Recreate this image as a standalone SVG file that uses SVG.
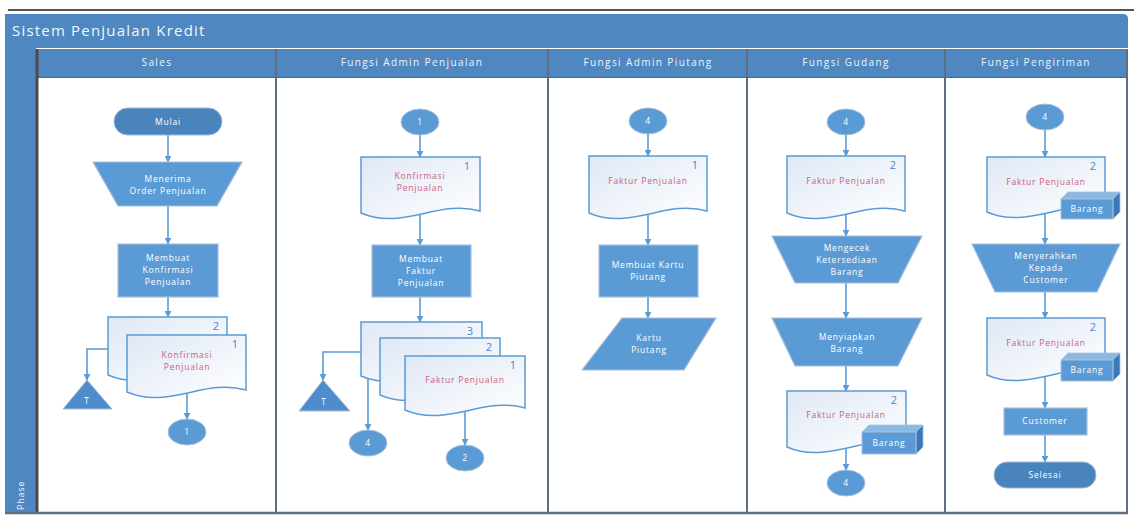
<svg xmlns="http://www.w3.org/2000/svg" width="1134" height="516" viewBox="0 0 1134 516">
<defs>
<style>
.t{font-family:"Open Sans","Liberation Sans",sans-serif;}
.title{font-size:15px;fill:#f2f6fb;letter-spacing:1.2px;}
.hdr{font-size:10px;fill:#eef3f9;letter-spacing:1.4px;text-anchor:middle;}
.nt{font-size:8.5px;fill:#ffffff;letter-spacing:0.8px;text-anchor:middle;}
.dt{font-size:8.5px;fill:#c9607f;letter-spacing:0.8px;text-anchor:middle;}
.num{font-size:11px;fill:#4a86c8;text-anchor:middle;}
.proc{fill:#5b9bd5;stroke:#a7c0dc;stroke-width:1.2;}
.term{fill:#4a84bd;stroke:#9db9d8;stroke-width:1;}
.doc{fill:url(#dg);stroke:#5b9bd5;stroke-width:1.5;}
.boxf{fill:#5b9bd5;stroke:#a7c0dc;stroke-width:1;}
.boxt{fill:#8cb8e4;stroke:#a7c0dc;stroke-width:0.8;}
.boxs{fill:#3a78b8;stroke:#a7c0dc;stroke-width:0.8;}
.con{fill:none;stroke:#5b9bd5;stroke-width:1.6;}
.sep{stroke:#5d6f80;stroke-width:2;}
</style>
<linearGradient id="dg" x1="0" y1="0" x2="1" y2="1">
<stop offset="0" stop-color="#dfe8f5"/>
<stop offset="1" stop-color="#ffffff"/>
</linearGradient>
<marker id="ah" viewBox="0 0 10 10" refX="9" refY="5" markerWidth="7" markerHeight="7" markerUnits="userSpaceOnUse" orient="auto">
<path d="M0,0 L10,5 L0,10 Z" fill="#5b9bd5"/>
</marker>
</defs>

<g id="frame">
<rect x="0" y="0" width="1134" height="516" fill="#ffffff"/>
<line x1="8" y1="10" x2="1134" y2="10" stroke="#555" stroke-width="2"/>
<path d="M5,14 H1123 Q1128,14 1128,19 V48 H5 Z" fill="#4f88c0"/>
<text class="t title" x="12" y="36">Sistem Penjualan Kredit</text>
<rect x="5" y="48" width="31" height="465" fill="#4f88c0"/>
<text class="t" transform="translate(24,510) rotate(-90)" font-size="9" fill="#eef3f9" letter-spacing="0.8">Phase</text>
<rect x="37" y="49" width="1090" height="28" fill="#4f88c0"/>
<line x1="37" y1="77.5" x2="1127" y2="77.5" stroke="#3f6f9e" stroke-width="1.5"/>
<rect x="37" y="78" width="1090" height="434" fill="#ffffff"/>
<line x1="37" y1="49" x2="37" y2="513" stroke="#4a4a4a" stroke-width="3"/>
<line class="sep" x1="276" y1="49" x2="276" y2="513"/>
<line class="sep" x1="548" y1="49" x2="548" y2="513"/>
<line class="sep" x1="747" y1="49" x2="747" y2="513"/>
<line class="sep" x1="945" y1="49" x2="945" y2="513"/>
<line class="sep" x1="1127" y1="49" x2="1127" y2="513"/>
<line x1="5" y1="513" x2="1128" y2="513" stroke="#5d6f80" stroke-width="2.5"/>
<text class="t hdr" x="157" y="66">Sales</text>
<text class="t hdr" x="412" y="66">Fungsi Admin Penjualan</text>
<text class="t hdr" x="648" y="66">Fungsi Admin Piutang</text>
<text class="t hdr" x="846" y="66">Fungsi Gudang</text>
<text class="t hdr" x="1036" y="66">Fungsi Pengiriman</text>
</g>

<g id="connectors">
<line class="con" x1="168" y1="135" x2="168" y2="162" marker-end="url(#ah)"/>
<line class="con" x1="168" y1="206" x2="168" y2="244" marker-end="url(#ah)"/>
<line class="con" x1="168" y1="297" x2="168" y2="317" marker-end="url(#ah)"/>
<polyline class="con" points="108,349 87,349 87,380" marker-end="url(#ah)"/>
<line class="con" x1="187" y1="393" x2="187" y2="419" marker-end="url(#ah)"/>

<line class="con" x1="420" y1="135" x2="420" y2="157" marker-end="url(#ah)"/>
<line class="con" x1="420" y1="214" x2="420" y2="245" marker-end="url(#ah)"/>
<line class="con" x1="420" y1="297" x2="420" y2="322" marker-end="url(#ah)"/>
<polyline class="con" points="361,352 323,352 323,380" marker-end="url(#ah)"/>
<polyline class="con" points="380,369 368,369 368,430" marker-end="url(#ah)"/>
<line class="con" x1="465" y1="411" x2="465" y2="445" marker-end="url(#ah)"/>

<line class="con" x1="648" y1="134" x2="648" y2="156" marker-end="url(#ah)"/>
<line class="con" x1="648" y1="214" x2="648" y2="245" marker-end="url(#ah)"/>
<line class="con" x1="648" y1="297" x2="648" y2="318" marker-end="url(#ah)"/>

<line class="con" x1="846" y1="135" x2="846" y2="156" marker-end="url(#ah)"/>
<line class="con" x1="846" y1="214" x2="846" y2="236" marker-end="url(#ah)"/>
<line class="con" x1="846" y1="283" x2="846" y2="318" marker-end="url(#ah)"/>
<line class="con" x1="846" y1="366" x2="846" y2="391" marker-end="url(#ah)"/>
<line class="con" x1="846" y1="448" x2="846" y2="470" marker-end="url(#ah)"/>

<line class="con" x1="1045" y1="130" x2="1045" y2="157" marker-end="url(#ah)"/>
<line class="con" x1="1045" y1="213" x2="1045" y2="244" marker-end="url(#ah)"/>
<line class="con" x1="1045" y1="292" x2="1045" y2="318" marker-end="url(#ah)"/>
<line class="con" x1="1045" y1="376" x2="1045" y2="408" marker-end="url(#ah)"/>
<line class="con" x1="1045" y1="435" x2="1045" y2="462" marker-end="url(#ah)"/>
</g>

<!-- Sales -->
<g id="mulai">
<rect class="term" x="114" y="108" width="108" height="27" rx="13.5"/>
<text class="t nt" x="168" y="125">Mulai</text>
</g>
<g id="menerima-order">
<polygon class="proc" points="93,162 242,162 217,206 118,206"/>
<text class="t nt" x="168" y="182">Menerima</text>
<text class="t nt" x="168" y="194">Order Penjualan</text>
</g>
<g id="membuat-konfirmasi">
<rect class="proc" x="118" y="244" width="100" height="53"/>
<text class="t nt" x="168" y="261">Membuat</text>
<text class="t nt" x="168" y="273">Konfirmasi</text>
<text class="t nt" x="168" y="285">Penjualan</text>
</g>
<g id="konfirmasi-sales">
<path class="doc" d="M108,317 H227 V373 C185,361 150,393 108,375 Z"/>
<text class="t num" x="216" y="330">2</text>
<path class="doc" d="M127,335 H246 V390 C204,378 169,410 127,392 Z"/>
<text class="t num" x="235" y="348">1</text>
<text class="t dt" x="187" y="358">Konfirmasi</text>
<text class="t dt" x="187" y="370">Penjualan</text>
</g>
<g id="arsip-t-sales">
<polygon points="87,380 112,409 63,409" fill="#4f8ccb" stroke="#a7c0dc" stroke-width="1"/>
<text class="t nt" x="87" y="404">T</text>
</g>
<g id="off-1-sales">
<ellipse cx="187" cy="432" rx="19" ry="13" fill="#5b9bd5" stroke="#a7c0dc"/>
<text class="t nt" x="187" y="435">1</text>
</g>

<!-- Admin Penjualan -->
<g id="on-1-admin">
<ellipse cx="420" cy="122" rx="19" ry="13" fill="#5b9bd5" stroke="#a7c0dc"/>
<text class="t nt" x="420" y="125">1</text>
</g>
<g id="konfirmasi-admin">
<path class="doc" d="M361,157 H480 V211 C438,199 403,231 361,213 Z"/>
<text class="t num" x="467" y="170">1</text>
<text class="t dt" x="420" y="179">Konfirmasi</text>
<text class="t dt" x="420" y="191">Penjualan</text>
</g>
<g id="membuat-faktur">
<rect class="proc" x="372" y="245" width="99" height="52"/>
<text class="t nt" x="421" y="262">Membuat</text>
<text class="t nt" x="421" y="274">Faktur</text>
<text class="t nt" x="421" y="286">Penjualan</text>
</g>
<g id="faktur-admin">
<path class="doc" d="M361,322 H482 V374 C440,362 404,394 361,376 Z"/>
<text class="t num" x="470" y="335">3</text>
<path class="doc" d="M380,338 H500 V393 C458,381 422,413 380,395 Z"/>
<text class="t num" x="489" y="351">2</text>
<path class="doc" d="M405,356 H525 V408 C483,396 447,428 405,410 Z"/>
<text class="t num" x="513" y="369">1</text>
<text class="t dt" x="465" y="383">Faktur Penjualan</text>
</g>
<g id="arsip-t-admin">
<polygon points="323,380 350,411 299,411" fill="#4f8ccb" stroke="#a7c0dc" stroke-width="1"/>
<text class="t nt" x="324" y="405">T</text>
</g>
<g id="off-4-admin">
<ellipse cx="368" cy="443" rx="19" ry="13" fill="#5b9bd5" stroke="#a7c0dc"/>
<text class="t nt" x="368" y="446">4</text>
</g>
<g id="off-2-admin">
<ellipse cx="465" cy="458" rx="19" ry="13" fill="#5b9bd5" stroke="#a7c0dc"/>
<text class="t nt" x="465" y="461">2</text>
</g>

<!-- Admin Piutang -->
<g id="on-4-piutang">
<ellipse cx="648" cy="121" rx="19" ry="13" fill="#5b9bd5" stroke="#a7c0dc"/>
<text class="t nt" x="648" y="124">4</text>
</g>
<g id="faktur-piutang">
<path class="doc" d="M589,156 H707 V211 C666,199 630,231 589,213 Z"/>
<text class="t num" x="695" y="169">1</text>
<text class="t dt" x="648" y="184">Faktur Penjualan</text>
</g>
<g id="membuat-kartu">
<rect class="proc" x="599" y="245" width="99" height="52"/>
<text class="t nt" x="648" y="268">Membuat Kartu</text>
<text class="t nt" x="648" y="280">Piutang</text>
</g>
<g id="kartu-piutang">
<polygon class="proc" points="622,318 716,318 684,370 582,370"/>
<text class="t nt" x="649" y="341">Kartu</text>
<text class="t nt" x="649" y="353">Piutang</text>
</g>

<!-- Gudang -->
<g id="on-4-gudang">
<ellipse cx="846" cy="122" rx="19" ry="13" fill="#5b9bd5" stroke="#a7c0dc"/>
<text class="t nt" x="846" y="125">4</text>
</g>
<g id="faktur-gudang">
<path class="doc" d="M787,156 H905 V211 C864,199 828,231 787,213 Z"/>
<text class="t num" x="893" y="169">2</text>
<text class="t dt" x="846" y="184">Faktur Penjualan</text>
</g>
<g id="mengecek">
<polygon class="proc" points="772,236 922,236 898,283 795,283"/>
<text class="t nt" x="847" y="251">Mengecek</text>
<text class="t nt" x="847" y="263">Ketersediaan</text>
<text class="t nt" x="847" y="275">Barang</text>
</g>
<g id="menyiapkan">
<polygon class="proc" points="772,318 922,318 898,366 795,366"/>
<text class="t nt" x="847" y="340">Menyiapkan</text>
<text class="t nt" x="847" y="352">Barang</text>
</g>
<g id="faktur-barang-gudang">
<path class="doc" d="M787,391 H906 V445 C864,433 828,465 787,447 Z"/>
<text class="t num" x="894" y="404">2</text>
<text class="t dt" x="846" y="418">Faktur Penjualan</text>
<polygon class="boxt" points="862,432 869,425 923,425 916,432"/>
<polygon class="boxs" points="916,432 923,425 923,447 916,454"/>
<rect class="boxf" x="862" y="432" width="54" height="22"/>
<text class="t nt" x="889" y="446">Barang</text>
</g>
<g id="off-4-gudang">
<ellipse cx="846" cy="483" rx="19" ry="13" fill="#5b9bd5" stroke="#a7c0dc"/>
<text class="t nt" x="846" y="486">4</text>
</g>

<!-- Pengiriman -->
<g id="on-4-pengiriman">
<ellipse cx="1045" cy="117" rx="19" ry="13" fill="#5b9bd5" stroke="#a7c0dc"/>
<text class="t nt" x="1045" y="120">4</text>
</g>
<g id="faktur-barang-kirim1">
<path class="doc" d="M987,157 H1105 V210 C1064,198 1028,230 987,212 Z"/>
<text class="t num" x="1093" y="170">2</text>
<text class="t dt" x="1046" y="185">Faktur Penjualan</text>
<polygon class="boxt" points="1061,199 1068,192 1120,192 1113,199"/>
<polygon class="boxs" points="1113,199 1120,192 1120,212 1113,219"/>
<rect class="boxf" x="1061" y="199" width="52" height="20"/>
<text class="t nt" x="1087" y="212">Barang</text>
</g>
<g id="menyerahkan">
<polygon class="proc" points="972,244 1120,244 1097,292 995,292"/>
<text class="t nt" x="1046" y="259">Menyerahkan</text>
<text class="t nt" x="1046" y="271">Kepada</text>
<text class="t nt" x="1046" y="283">Customer</text>
</g>
<g id="faktur-barang-kirim2">
<path class="doc" d="M987,318 H1105 V373 C1064,361 1028,393 987,375 Z"/>
<text class="t num" x="1093" y="331">2</text>
<text class="t dt" x="1046" y="346">Faktur Penjualan</text>
<polygon class="boxt" points="1061,360 1068,353 1120,353 1113,360"/>
<polygon class="boxs" points="1113,360 1120,353 1120,374 1113,381"/>
<rect class="boxf" x="1061" y="360" width="52" height="21"/>
<text class="t nt" x="1087" y="373">Barang</text>
</g>
<g id="customer">
<rect class="proc" x="1004" y="408" width="83" height="27"/>
<text class="t nt" x="1045" y="424">Customer</text>
</g>
<g id="selesai">
<rect class="term" x="994" y="462" width="102" height="26" rx="13"/>
<text class="t nt" x="1045" y="478">Selesai</text>
</g>
</svg>
